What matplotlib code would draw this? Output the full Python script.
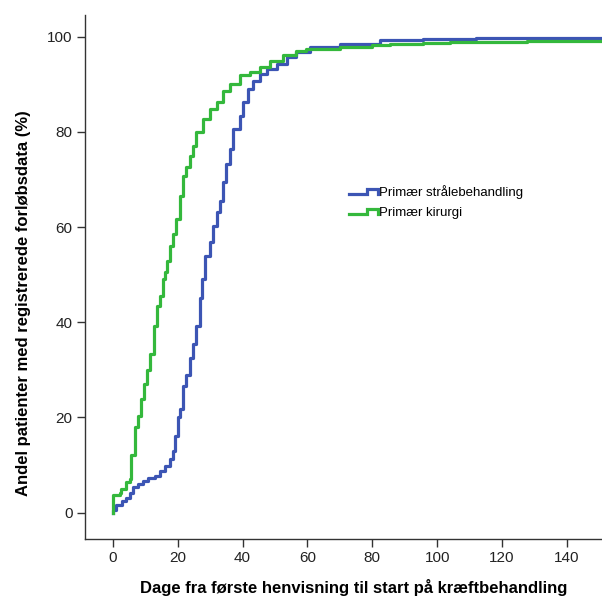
import matplotlib
matplotlib.use("Agg")
import matplotlib.pyplot as plt
from matplotlib.legend_handler import HandlerLine2D
from matplotlib.lines import Line2D

plt.rcParams['font.family'] = ['Liberation Sans', 'DejaVu Sans']

# Kumulativ andel (%) efter dage fra første henvisning
straale_dage = [0, 0, 1.1, 2.7, 4.2, 5.2, 6.3, 7.8, 9.3, 10.9, 13.0, 14.5, 16.0, 17.6, 18.6,
                19.3, 20.1, 20.7, 21.7, 22.7, 23.7, 24.8, 25.8, 26.8, 27.6, 28.4, 29.9, 30.9,
                32.0, 33.0, 34.0, 35.0, 36.0, 37.1, 39.2, 40.2, 41.7, 43.3, 45.3, 47.4, 50.5,
                53.6, 56.6, 60.7, 70, 82.3, 95.6, 112, 155]
straale_pct = [0, 0.6, 1.7, 2.4, 3.1, 4.1, 5.4, 6.1, 6.6, 7.2, 7.8, 8.7, 9.7, 11.2, 12.9,
               16.1, 20.0, 21.7, 26.6, 29.0, 32.6, 35.4, 39.2, 45.2, 49.0, 54.0, 56.8, 60.3,
               63.1, 65.5, 69.4, 73.3, 76.4, 80.6, 83.4, 86.3, 89.0, 90.8, 92.2, 93.3, 94.3,
               95.7, 96.8, 97.8, 98.4, 99.4, 99.6, 99.8, 99.8]

kirurgi_dage = [0, 0, 2.2, 2.6, 4.2, 5.2, 5.5, 6.8, 7.7, 8.6, 9.6, 10.4, 11.4, 12.6, 13.5,
                14.5, 15.5, 16.0, 16.7, 17.6, 18.6, 19.6, 20.7, 21.7, 22.7, 23.7, 24.8, 25.8,
                27.8, 29.9, 32.0, 34.0, 36.0, 39.2, 42.2, 45.3, 48.4, 52.5, 56.6, 59.7, 70,
                80, 85.4, 95.6, 104, 127.6, 155]
kirurgi_pct = [0, 3.7, 4.1, 5.0, 6.4, 7.0, 12.2, 17.9, 20.3, 23.8, 27.0, 30.0, 33.3, 39.2, 43.4,
               45.5, 49.0, 50.5, 52.9, 56.0, 58.5, 61.7, 66.6, 70.8, 72.6, 75.0, 77.1, 79.9,
               82.7, 84.8, 86.3, 88.7, 90.1, 91.9, 92.6, 93.6, 95.0, 96.1, 97.1, 97.4, 97.8,
               98.2, 98.5, 98.7, 98.9, 99.2, 99.2]

navne = ['Primær strålebehandling', 'Primær kirurgi']
farver = ['#3c55b4', '#34b83c']


# legend-symbol som et lille trin, som i SPSS
class TrinHandler(HandlerLine2D):
    def create_artists(self, legend, orig_handle, xdescent, ydescent, width, height, fontsize, trans):
        x0 = -xdescent
        y0 = -ydescent
        xs = [x0, x0 + 0.62 * width, x0 + 0.62 * width, x0 + width, x0 + width]
        ys = [y0 + 0.2 * height, y0 + 0.2 * height, y0 + 0.75 * height, y0 + 0.75 * height, y0 + 0.2 * height]
        linje = Line2D(xs, ys, color=orig_handle.get_color(), lw=orig_handle.get_linewidth(),
                       solid_joinstyle='miter')
        linje.set_transform(trans)
        return [linje]


fig = plt.figure(figsize=(6.02, 5.98), dpi=100)
ax = fig.add_axes([0.141, 0.099, 0.859, 0.876])

l1, = ax.plot(straale_dage, straale_pct, drawstyle='steps-post', color=farver[0], lw=2.3)
l2, = ax.plot(kirurgi_dage, kirurgi_pct, drawstyle='steps-post', color=farver[1], lw=2.3)

ax.set_xlim(-8.6, 150.8)
ax.set_ylim(-5.5, 104.6)
ax.set_xticks(range(0, 141, 20))
ax.set_yticks(range(0, 101, 20))

for s in ['top', 'right']:
    ax.spines[s].set_visible(False)
for s in ['left', 'bottom']:
    ax.spines[s].set_linewidth(1.0)
    ax.spines[s].set_color('#333333')

ax.tick_params(direction='out', length=6, width=1.0, color='#333333', pad=3,
               labelsize=11, labelcolor='#222222')

ax.set_xlabel('Dage fra første henvisning til start på kræftbehandling',
              fontsize=12, fontweight='bold')
ax.set_ylabel('Andel patienter med registrerede forløbsdata (%)',
              fontsize=12, fontweight='bold')
ax.xaxis.set_label_coords(0.52, -0.076)
ax.yaxis.set_label_coords(-0.105, 0.45)

ax.legend([l1, l2], navne, handler_map={l1: TrinHandler(), l2: TrinHandler()},
          loc='upper left', bbox_to_anchor=(0.5, 0.685), frameon=False, fontsize=9.5,
          handlelength=2.2, handletextpad=0.1, labelspacing=0.55, borderaxespad=0)

fig.savefig('out.png', dpi=100)
